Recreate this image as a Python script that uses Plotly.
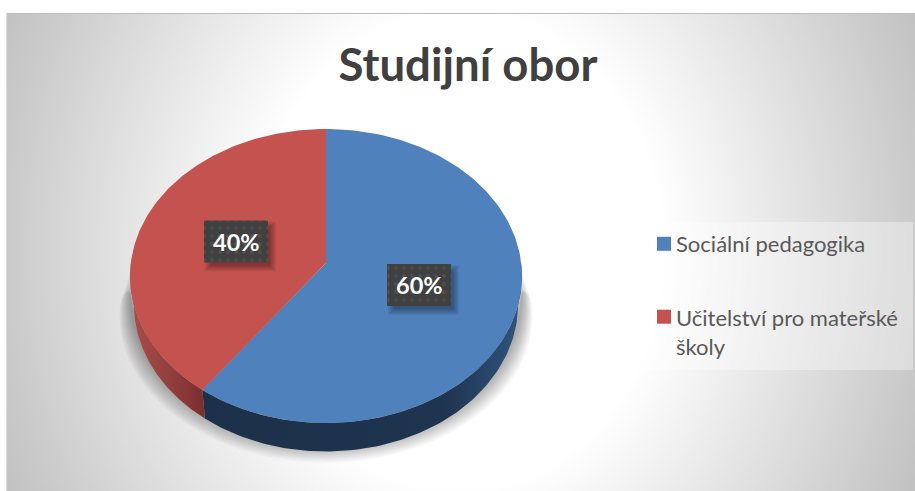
import base64, struct, zlib
import numpy as np
import plotly.graph_objects as go

# ---- data ----
categories = ["Sociální pedagogika", "Učitelství pro mateřské<br>školy"]
values = [60, 40]
title_text = "Studijní obor"
top_colors = ["#4f81bd", "#c4524f"]
W, H = 915, 491

# ---- projected pie geometry ----
CX, CY, R, K, C, DEPTH = 326, 263, 195.2, 145.85, -0.0884, 28.5


def proj(t, r=1.0, dy=0.0):
    u, v = np.sin(t), -np.cos(t)
    d = 1 + C * v * r
    return CX + R * r * u / d, CY + K * r * v / d + dy


def png_uri(arr):
    h, w = arr.shape
    raw = b"".join(b"\x00" + arr[i].tobytes() for i in range(h))

    def chunk(tag, data):
        body = tag + data
        return struct.pack(">I", len(data)) + body + struct.pack(">I", zlib.crc32(body))

    png = (b"\x89PNG\r\n\x1a\n" + chunk(b"IHDR", struct.pack(">IIBBBBB", w, h, 8, 0, 0, 0, 0))
           + chunk(b"IDAT", zlib.compress(raw, 9)) + chunk(b"IEND", b""))
    return "data:image/png;base64," + base64.b64encode(png).decode()


yy, xx = np.mgrid[13:H, 6:W]
dist = np.sqrt((xx - 460.0) ** 2 + (0.86 * (yy - 250.0)) ** 2)
bg = np.clip(255 - 0.208 * np.clip(dist - 205, 0, None), 0, 255).astype(np.uint8)

fig = go.Figure()

# soft shadow under the pie
LAYERS = 18
for i in range(LAYERS):
    f = i / (LAYERS - 1)
    ang = np.linspace(np.pi * 0.5, np.pi * 1.5, 120)
    ox, oy = proj(ang, 1.0, 40 - 18 * f)
    ox = CX + (ox - CX) * (1.055 - 0.055 * f)
    sx = np.r_[CX + 194, ox, CX - 194]
    sy = np.r_[265 + 45 * f, oy, 265 + 45 * f]
    fig.add_trace(go.Scatter(x=sx, y=sy, mode="lines", line=dict(width=0), fill="toself",
                             fillcolor="rgba(0,0,0,0.019)", hoverinfo="skip", showlegend=False))

# slice geometry from the values
shares = np.array(values, dtype=float) / sum(values)
edges = np.concatenate([[0], np.cumsum(shares)]) * 2 * np.pi

# rims
rim_specs = [
    (np.pi * 0.5, edges[1], [[0, "#1c3049"], [0.76, "#1f344f"], [1, "#2f557f"]]),
    (edges[1], np.pi * 1.5, [[0, "#ab4d4b"], [0.5, "#93403e"], [1, "#7a2e2e"]]),
]
for a0, a1, scale in rim_specs:
    a = np.linspace(a0, a1, 120)
    x1, y1 = proj(a)
    x2, y2 = proj(a[::-1], 1.0, DEPTH)
    x2 = CX + (x2 - CX) * 0.98
    fig.add_trace(go.Scatter(x=np.r_[x1, x2], y=np.r_[y1, y2], mode="lines", line=dict(width=0),
                             fill="toself", fillgradient=dict(type="horizontal", colorscale=scale),
                             hoverinfo="skip", showlegend=False))

# tops
for i, (name, col) in enumerate(zip(categories, top_colors)):
    a = np.linspace(edges[i], edges[i + 1], 160)
    x, y = proj(a)
    fig.add_trace(go.Scatter(x=np.r_[CX, x, CX], y=np.r_[CY, y, CY], mode="lines",
                             line=dict(width=0), fill="toself", fillcolor=col,
                             hoverinfo="skip", showlegend=False))

# data label boxes
label_xy = [(419, 285), (236, 241.5)]
BW, BH = 32, 21
annotations = []
for (lx, ly), v in zip(label_xy, values):
    for s in range(7):
        o = 7 - s
        fig.add_trace(go.Scatter(
            x=[lx - BW + 8 - o, lx + BW + 1 + o, lx + BW + 1 + o, lx - BW + 8 - o],
            y=[ly - BH + 8 - o, ly - BH + 8 - o, ly + BH + 2 + o, ly + BH + 2 + o],
            mode="lines", line=dict(width=0), fill="toself", fillcolor="rgba(0,0,0,0.05)",
            hoverinfo="skip", showlegend=False))
    fig.add_trace(go.Scatter(
        x=[lx - BW, lx + BW, lx + BW, lx - BW], y=[ly - BH, ly - BH, ly + BH, ly + BH],
        mode="lines", line=dict(width=0), fill="toself",
        fillpattern=dict(shape=".", bgcolor="#404040", fgcolor="#5c5c5c", size=8, solidity=0.2),
        hoverinfo="skip", showlegend=False))
    annotations.append(dict(x=lx, y=ly, xref="x", yref="y", showarrow=False,
                            text=f"<b>{round(100 * v / sum(values))}%</b>",
                            font=dict(family="Lato, Carlito, sans-serif", size=23.5, color="#ffffff")))

# legend entries
for i, (name, col) in enumerate(zip(categories, top_colors)):
    fig.add_trace(go.Scatter(x=[None], y=[None], mode="markers", name=name, legendgroup=f"g{i}",
                             marker=dict(symbol="square", size=14, color=col)))

fig.update_layout(
    width=W, height=H, autosize=False,
    margin=dict(l=0, r=0, t=0, b=0),
    paper_bgcolor="#ffffff", plot_bgcolor="rgba(0,0,0,0)",
    xaxis=dict(range=[0, W], visible=False, fixedrange=True),
    yaxis=dict(range=[H, 0], visible=False, fixedrange=True),
    title=dict(text=f"<b>{title_text}</b>", x=468 / W, xanchor="center", y=1 - 65 / H, yanchor="middle",
               font=dict(family="Lato, Carlito, sans-serif", size=45.5, color="#404040")),
    legend=dict(x=644 / W, y=1 - 223 / H, xanchor="left", yanchor="top", bgcolor="rgba(0,0,0,0)",
                tracegroupgap=42, itemclick=False, itemdoubleclick=False,
                font=dict(family="Lato, Carlito, sans-serif", size=22, color="#595959")),
    images=[dict(source=png_uri(bg), xref="x", yref="y", x=6, y=13, sizex=W - 6, sizey=H - 13,
                 sizing="stretch", layer="below", xanchor="left", yanchor="top")],
    shapes=[
        dict(type="rect", xref="x", yref="y", x0=644, x1=913, y0=222, y1=370, layer="above",
             line=dict(width=0), fillcolor="rgba(255,255,255,0.36)"),
        dict(type="line", xref="x", yref="y", x0=6, x1=W, y0=13.5, y1=13.5,
             line=dict(color="#bdbdbd", width=1)),
        dict(type="line", xref="x", yref="y", x0=6.5, x1=6.5, y0=13, y1=H,
             line=dict(color="#dddddd", width=1)),
    ],
    annotations=annotations,
)

post = """
document.body.style.margin = '0';
document.querySelectorAll('.legend .traces').forEach(function (g) {
  var t = g.querySelector('.legendtext');
  var s = g.querySelector('.legendsymbols') || g.querySelector('.legendpoints');
  if (t) t.setAttribute('transform', 'translate(-8,0)');
  var lines = t ? t.querySelectorAll('tspan.line').length : 1;
  if (s && lines > 1) s.setAttribute('transform', 'translate(0,-15)');
});
"""
fig.write_html("out.html", config=dict(displayModeBar=False), post_script=post)
